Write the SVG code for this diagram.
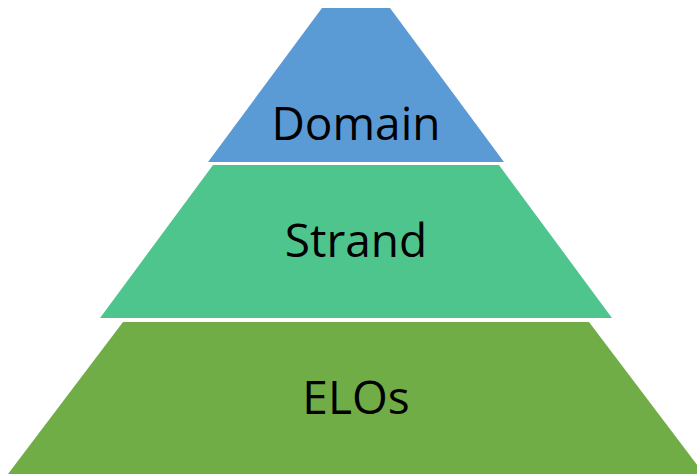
<svg xmlns="http://www.w3.org/2000/svg" width="697" height="476" viewBox="0 0 697 476">
<style>
.lbl{font-family:"Open Sans","Liberation Sans",sans-serif;font-size:46px;fill:#000;text-anchor:middle}
</style>
<rect width="697" height="476" fill="#fff"/>
<g id="domain">
<polygon points="322,8 390,8 504,162 208,162" fill="#5B9BD5"/>
<text class="lbl" x="356" y="140">Domain</text>
</g>
<g id="strand">
<polygon points="213,165 499,165 612,318 100,318" fill="#4FC58E"/>
<text class="lbl" x="356" y="257">Strand</text>
</g>
<g id="elos">
<polygon points="123,322 589,322 704,474 8,474" fill="#70AD47"/>
<text class="lbl" x="356" y="414">ELOs</text>
</g>
<g id="connectors"></g>
</svg>
